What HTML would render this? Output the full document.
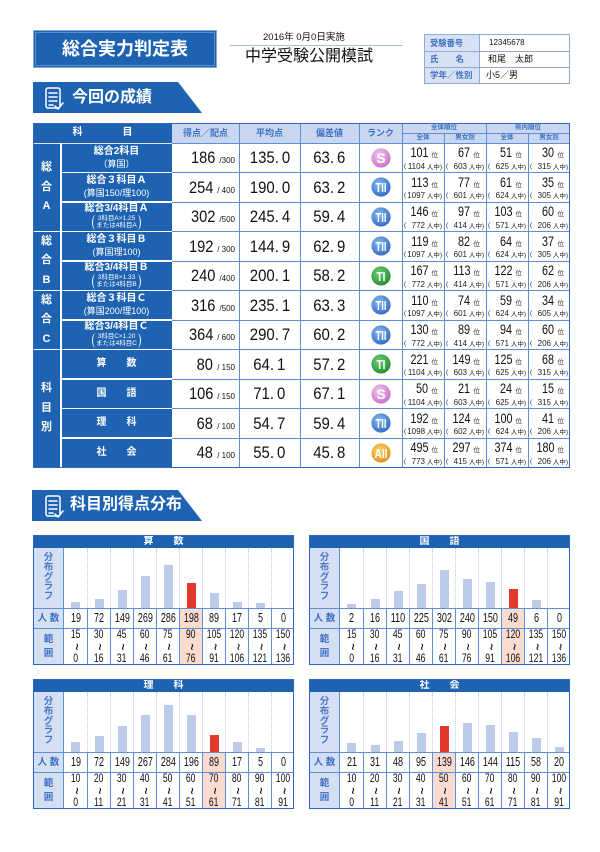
<!DOCTYPE html>
<html><head><meta charset="utf-8"><style>
*{margin:0;padding:0;box-sizing:border-box}
html,body{width:600px;height:852px;background:#fff;overflow:hidden}
body{position:relative;font-family:"Liberation Sans","Noto Sans CJK JP",sans-serif;color:#111}
.a{position:absolute}
.hl{position:absolute;height:1px;background:#5f8fd4}
.vl{position:absolute;width:1px;background:#5f8fd4}
.wh{position:absolute;background:#fff}
.ht{position:absolute;color:#3d6fc3;font-weight:bold;text-align:center;white-space:nowrap}
.sb{position:absolute;left:61px;width:111px;height:29.5px;display:flex;flex-direction:column;align-items:center;justify-content:center;color:#fff;line-height:12px;white-space:nowrap}
.sb b{font-size:10px}
.sb span{font-size:9px}
.sb b.s{line-height:10.5px}
.sb .br{border-left:1px solid #fff;border-right:1px solid #fff;border-radius:4px/8px;padding:0 3px;font-size:6.5px;line-height:7.3px;text-align:center;margin-top:0.5px}
.gp{position:absolute;left:33px;width:27px;display:flex;align-items:center;justify-content:center;text-align:center;color:#fff;font-weight:bold;font-size:11px;line-height:19.5px}
.sc{position:absolute;left:172px;width:67px;height:29.5px;line-height:29.5px;text-align:right;padding-right:4px;white-space:nowrap}
.sc b{font-weight:normal;font-size:17px;display:inline-block;transform:scaleX(.86);transform-origin:100% 50%}
.sc i{font-style:normal;font-size:8px;margin-left:4px}
.av,.dv{position:absolute;height:29.5px;line-height:29.5px;text-align:center;white-space:nowrap}
.av{left:239px;width:61px}.dv{left:300px;width:59px}
.av b,.dv b{font-weight:normal;font-size:17px;display:inline-block;transform:scaleX(.88)}
.rk{position:absolute;left:359px;width:43px;height:29.5px;display:flex;align-items:center;justify-content:center}
.rc{position:absolute;width:42px;height:29.5px}
.c1{left:402px}.c2{left:444px}.c3{left:486px}.c4{left:528px}
.rc .l1{position:absolute;right:6px;top:2px;font-size:13.5px;line-height:15px;white-space:nowrap}
.rc .l1 b{font-weight:normal;display:inline-block;transform:scaleX(.8);transform-origin:100% 50%}
.rc .l1 i{font-style:normal;font-size:6.5px;margin-left:3px;color:#333}
.rc .l2{position:absolute;left:2px;right:2px;top:18.5px;font-size:6.5px;line-height:9px;display:flex;justify-content:space-between;white-space:nowrap;color:#222}
.rc .l2 em{font-style:normal;font-size:8px}
.ch{position:absolute;width:261px;height:130px;background:#fff}
.ct{position:absolute;left:0;top:0;width:261px;height:13px;background:#1e63b1;color:#fff;font-weight:bold;font-size:10px;line-height:13px;text-align:center}
.lc{position:absolute;left:0;top:13px;width:31px;height:117px;background:#d4dff3;border-right:1px solid #5f8fd4}
.lt1{position:absolute;left:0;top:18px;width:31px;text-align:center;font-size:9.5px;line-height:9.8px;color:#4a78c6;font-weight:bold}
.lt2{position:absolute;left:0;top:73px;width:31px;height:20px;line-height:19px;text-align:center;font-size:9.5px;color:#3d6fc3;font-weight:bold;border-top:1px solid #5f8fd4}
.lt3{position:absolute;left:0;top:93px;width:31px;height:37px;display:flex;align-items:center;justify-content:center;line-height:14px;font-size:9.5px;color:#3d6fc3;font-weight:bold;border-top:1px solid #5f8fd4;text-align:center}
.gr{position:absolute;left:31px;top:13px;width:230px;height:60px;display:flex}
.gr div{width:23px;height:60px;display:flex;align-items:flex-end;justify-content:center;border-left:1px dotted #bccbea}
.gr div:first-child{border-left:none}
.gr i{display:block;width:9px;background:#bccbe9}
.gr i.r{background:#e0392e}
.cn{position:absolute;left:31px;top:73px;width:230px;height:20px;display:flex;border-top:1px solid #5f8fd4}
.cn div{width:23px;height:19px;border-left:1px solid #5f8fd4;text-align:center;line-height:19px;font-size:12.5px}
.rg{position:absolute;left:31px;top:93px;width:230px;height:37px;display:flex;border-top:1px solid #5f8fd4}
.rg div{width:23px;height:36px;border-left:1px solid #5f8fd4;display:flex;align-items:center;justify-content:center;font-size:12px;line-height:11.8px;text-align:center}
.cn div:first-child,.rg div:first-child{border-left:none}
.cn span,.rg span{display:inline-block;transform:scaleX(.72)}
.t{display:inline-block;transform:scaleX(1.9) rotate(90deg);font-style:normal;font-size:12px}
.hi{background:#f9dbd0}
.bd{position:absolute;left:0;top:0;width:261px;height:130px;border:1.5px solid #2c6bc2}
</style></head><body>

<svg width="0" height="0" style="position:absolute"><defs>
<radialGradient id="gS" cx=".4" cy=".35" r=".75"><stop offset="0" stop-color="#f2c6ef"/><stop offset="1" stop-color="#c468c0"/></radialGradient>
<radialGradient id="gB" cx=".4" cy=".35" r=".75"><stop offset="0" stop-color="#86baf2"/><stop offset="1" stop-color="#2a64bd"/></radialGradient>
<radialGradient id="gG" cx=".4" cy=".35" r=".75"><stop offset="0" stop-color="#72cc74"/><stop offset="1" stop-color="#1d8a2e"/></radialGradient>
<radialGradient id="gO" cx=".4" cy=".35" r=".75"><stop offset="0" stop-color="#fad36e"/><stop offset="1" stop-color="#e08a10"/></radialGradient>
</defs></svg>

<!-- Title box -->
<div class="a" style="left:33px;top:30px;width:184px;height:38px;background:#1e63b1;border:1px solid #86aadd;box-shadow:inset 0 0 0 1px #1e63b1,inset 0 0 0 2px #5a8ed3;color:#fff;font-weight:bold;font-size:18px;line-height:36px;text-align:center">総合実力判定表</div>

<div class="a" style="left:263px;top:32px;font-size:9.5px;line-height:12px;white-space:nowrap">2016年 0月0日実施</div>
<div class="a" style="left:230px;top:45px;width:173px;height:1px;background:#a8c0e8"></div>
<div class="a" style="left:245px;top:48px;font-size:16px;line-height:18px;white-space:nowrap">中学受験公開模試</div>

<!-- Info box -->
<div class="a" style="left:424px;top:34px;width:146px;height:50px;border:1px solid #8fabd9;background:#fff">
  <div class="a" style="left:0;top:0;width:55px;height:48px;background:#d7e1f3;border-right:1px solid #8fabd9"></div>
  <div class="a" style="left:0;top:16px;width:144px;height:1px;background:#8fabd9"></div>
  <div class="a" style="left:0;top:32px;width:144px;height:1px;background:#8fabd9"></div>
  <div class="a" style="left:5px;top:0;height:16px;line-height:16px;font-size:8.3px;font-weight:bold;color:#3f70c2;white-space:nowrap">受験番号</div>
  <div class="a" style="left:5px;top:16px;height:16px;line-height:16px;font-size:8.5px;font-weight:bold;color:#3f70c2;white-space:nowrap">氏&emsp;&emsp;名</div>
  <div class="a" style="left:5px;top:32px;height:16px;line-height:16px;font-size:8.5px;font-weight:bold;color:#3f70c2;white-space:nowrap">学年／性別</div>
  <div class="a" style="left:64px;top:0;height:16px;line-height:16px;font-size:8px;white-space:nowrap">12345678</div>
  <div class="a" style="left:63px;top:16px;height:16px;line-height:16px;font-size:9px;white-space:nowrap">和尾　太郎</div>
  <div class="a" style="left:61px;top:32px;height:16px;line-height:16px;font-size:9px;white-space:nowrap">小5／男</div>
</div>

<!-- Section headings -->
<svg class="a" style="left:0;top:0" width="600" height="852">
  <polygon points="33,82 178,82 202,113 33,113" fill="#1e63b1"/>
  <g fill="none" stroke="#fff" stroke-width="1.5" stroke-linecap="round">
    <rect x="46" y="88" width="14" height="20" rx="2"/>
    <line x1="49" y1="93" x2="57" y2="93"/><line x1="49" y1="97" x2="57" y2="97"/><line x1="49" y1="101" x2="57" y2="101"/><line x1="49" y1="105" x2="53" y2="105"/>
    <path d="M55,106 l3,3 l5,-6"/>
  </g>
  <polygon points="32,490 178,490 202,521 32,521" fill="#1e63b1"/>
  <g fill="none" stroke="#fff" stroke-width="1.5" stroke-linecap="round">
    <rect x="46" y="496" width="14" height="20" rx="2"/>
    <line x1="49" y1="501" x2="57" y2="501"/><line x1="49" y1="505" x2="57" y2="505"/><line x1="49" y1="509" x2="57" y2="509"/><line x1="49" y1="513" x2="53" y2="513"/>
    <path d="M55,514 l3,3 l5,-6"/>
  </g>
</svg>
<div class="a" style="left:72px;top:89px;font-size:16px;line-height:18px;font-weight:bold;color:#fff;white-space:nowrap">今回の成績</div>
<div class="a" style="left:70px;top:496px;font-size:16px;line-height:18px;font-weight:bold;color:#fff;white-space:nowrap">科目別得点分布</div>

<!-- Table backgrounds -->
<div class="a" style="left:33px;top:123px;width:139px;height:344.5px;background:#1e63b1"></div>
<div class="a" style="left:172px;top:123px;width:398px;height:20px;background:#c8d7ef"></div>

<!-- white lines in blue area -->
<div class="wh" style="left:33px;top:142.5px;width:139px;height:1px;background:#dfe8f6"></div>
<div class="wh" style="left:60px;top:143px;width:1.5px;height:324.5px"></div>
<div class="wh" style="left:61.5px;top:171.75px;width:110.5px;height:1.5px"></div>
<div class="wh" style="left:61.5px;top:201.25px;width:110.5px;height:1.5px"></div>
<div class="wh" style="left:61.5px;top:230.75px;width:110.5px;height:1.5px"></div>
<div class="wh" style="left:61.5px;top:260.25px;width:110.5px;height:1.5px"></div>
<div class="wh" style="left:61.5px;top:289.75px;width:110.5px;height:1.5px"></div>
<div class="wh" style="left:61.5px;top:319.25px;width:110.5px;height:1.5px"></div>
<div class="wh" style="left:61.5px;top:348.75px;width:110.5px;height:1.5px"></div>
<div class="wh" style="left:61.5px;top:378.25px;width:110.5px;height:1.5px"></div>
<div class="wh" style="left:61.5px;top:407.75px;width:110.5px;height:1.5px"></div>
<div class="wh" style="left:61.5px;top:437.25px;width:110.5px;height:1.5px"></div>
<div class="wh" style="left:33px;top:230.75px;width:27px;height:1.5px"></div>
<div class="wh" style="left:33px;top:289.75px;width:27px;height:1.5px"></div>
<div class="wh" style="left:33px;top:348.75px;width:27px;height:1.5px"></div>

<!-- grid lines -->
<div class="hl" style="left:172px;top:142.5px;width:398px"></div>
<div class="hl" style="left:172px;top:172px;width:398px"></div>
<div class="hl" style="left:172px;top:201.5px;width:398px"></div>
<div class="hl" style="left:172px;top:231px;width:398px"></div>
<div class="hl" style="left:172px;top:260.5px;width:398px"></div>
<div class="hl" style="left:172px;top:290px;width:398px"></div>
<div class="hl" style="left:172px;top:319.5px;width:398px"></div>
<div class="hl" style="left:172px;top:349px;width:398px"></div>
<div class="hl" style="left:172px;top:378.5px;width:398px"></div>
<div class="hl" style="left:172px;top:408px;width:398px"></div>
<div class="hl" style="left:172px;top:437.5px;width:398px"></div>
<div class="hl" style="left:402px;top:132.5px;width:168px"></div>
<div class="vl" style="left:238.5px;top:123px;height:344.5px"></div>
<div class="vl" style="left:299.5px;top:123px;height:344.5px"></div>
<div class="vl" style="left:358.5px;top:123px;height:344.5px"></div>
<div class="vl" style="left:401.5px;top:123px;height:344.5px"></div>
<div class="vl" style="left:485.5px;top:123px;height:344.5px"></div>
<div class="vl" style="left:443.5px;top:133px;height:334.5px"></div>
<div class="vl" style="left:527.5px;top:133px;height:334.5px"></div>

<!-- header texts -->
<div class="a" style="left:33px;top:123px;width:139px;height:20px;line-height:20px;text-align:center;color:#fff;font-weight:bold;font-size:10px;white-space:nowrap">科&emsp;&emsp;&emsp;&emsp;目</div>
<div class="ht" style="left:172px;top:123px;width:67px;line-height:20px;font-size:9px">得点／配点</div>
<div class="ht" style="left:239px;top:123px;width:61px;line-height:20px;font-size:9px">平均点</div>
<div class="ht" style="left:300px;top:123px;width:59px;line-height:20px;font-size:9px">偏差値</div>
<div class="ht" style="left:359px;top:123px;width:43px;line-height:20px;font-size:9px">ランク</div>
<div class="ht" style="left:402px;top:123px;width:84px;line-height:10px;font-size:6.5px">全体順位</div>
<div class="ht" style="left:486px;top:123px;width:84px;line-height:10px;font-size:6.5px">県内順位</div>
<div class="ht" style="left:402px;top:133px;width:42px;line-height:10px;font-size:6.5px">全体</div>
<div class="ht" style="left:444px;top:133px;width:42px;line-height:10px;font-size:6.5px">男女別</div>
<div class="ht" style="left:486px;top:133px;width:42px;line-height:10px;font-size:6.5px">全体</div>
<div class="ht" style="left:528px;top:133px;width:42px;line-height:10px;font-size:6.5px">男女別</div>

<!-- group labels -->
<div class="gp" style="top:143px;height:88.5px"><div>総<br>合<br>A</div></div>
<div class="gp" style="top:231.5px;height:59px"><div>総<br>合<br>B</div></div>
<div class="gp" style="top:290.5px;height:59px"><div>総<br>合<br>C</div></div>
<div class="gp" style="top:349.5px;height:118px"><div>科<br>目<br>別</div></div>

<!-- Row 1 -->
<div class="sb" style="top:143px"><b>総合2科目</b><span>（算国）</span></div>
<div class="sc" style="top:143px"><b>186</b><i>/300</i></div>
<div class="av" style="top:143px"><b>135.&thinsp;0</b></div>
<div class="dv" style="top:143px"><b>63.&thinsp;6</b></div>
<div class="rk" style="top:143px"><svg width="20" height="20"><circle cx="10" cy="10" r="9.6" fill="url(#gS)"/><text x="10" y="14.8" text-anchor="middle" font-family="Liberation Sans" font-weight="bold" font-size="14" fill="#fff">S</text></svg></div>
<div class="rc c1" style="top:143px"><p class="l1"><b>101</b><i>位</i></p><p class="l2"><span>(</span><span><em>1104</em> 人中)</span></p></div>
<div class="rc c2" style="top:143px"><p class="l1"><b>67</b><i>位</i></p><p class="l2"><span>(</span><span><em>603</em> 人中)</span></p></div>
<div class="rc c3" style="top:143px"><p class="l1"><b>51</b><i>位</i></p><p class="l2"><span>(</span><span><em>625</em> 人中)</span></p></div>
<div class="rc c4" style="top:143px"><p class="l1"><b>30</b><i>位</i></p><p class="l2"><span>(</span><span><em>315</em> 人中)</span></p></div>

<!-- Row 2 -->
<div class="sb" style="top:172.5px"><b>総合３科目Ａ</b><span>(算国150/理100)</span></div>
<div class="sc" style="top:172.5px"><b>254</b><i>/ 400</i></div>
<div class="av" style="top:172.5px"><b>190.&thinsp;0</b></div>
<div class="dv" style="top:172.5px"><b>63.&thinsp;2</b></div>
<div class="rk" style="top:172.5px"><svg width="20" height="20"><circle cx="10" cy="10" r="9.6" fill="url(#gB)"/><text x="10" y="14.8" text-anchor="middle" font-family="Liberation Sans" font-weight="bold" font-size="13" fill="#fff" textLength="11" lengthAdjust="spacingAndGlyphs">TII</text></svg></div>
<div class="rc c1" style="top:172.5px"><p class="l1"><b>113</b><i>位</i></p><p class="l2"><span>(</span><span><em>1097</em> 人中)</span></p></div>
<div class="rc c2" style="top:172.5px"><p class="l1"><b>77</b><i>位</i></p><p class="l2"><span>(</span><span><em>601</em> 人中)</span></p></div>
<div class="rc c3" style="top:172.5px"><p class="l1"><b>61</b><i>位</i></p><p class="l2"><span>(</span><span><em>624</em> 人中)</span></p></div>
<div class="rc c4" style="top:172.5px"><p class="l1"><b>35</b><i>位</i></p><p class="l2"><span>(</span><span><em>305</em> 人中)</span></p></div>

<!-- Row 3 -->
<div class="sb" style="top:202px"><b class="s">総合3/4科目Ａ</b><div class="br">3科目A×1.25<br>または4科目A</div></div>
<div class="sc" style="top:202px"><b>302</b><i>/500</i></div>
<div class="av" style="top:202px"><b>245.&thinsp;4</b></div>
<div class="dv" style="top:202px"><b>59.&thinsp;4</b></div>
<div class="rk" style="top:202px"><svg width="20" height="20"><circle cx="10" cy="10" r="9.6" fill="url(#gB)"/><text x="10" y="14.8" text-anchor="middle" font-family="Liberation Sans" font-weight="bold" font-size="13" fill="#fff" textLength="11" lengthAdjust="spacingAndGlyphs">TII</text></svg></div>
<div class="rc c1" style="top:202px"><p class="l1"><b>146</b><i>位</i></p><p class="l2"><span>(</span><span><em>772</em> 人中)</span></p></div>
<div class="rc c2" style="top:202px"><p class="l1"><b>97</b><i>位</i></p><p class="l2"><span>(</span><span><em>414</em> 人中)</span></p></div>
<div class="rc c3" style="top:202px"><p class="l1"><b>103</b><i>位</i></p><p class="l2"><span>(</span><span><em>571</em> 人中)</span></p></div>
<div class="rc c4" style="top:202px"><p class="l1"><b>60</b><i>位</i></p><p class="l2"><span>(</span><span><em>206</em> 人中)</span></p></div>

<!-- Row 4 -->
<div class="sb" style="top:231.5px"><b>総合３科目Ｂ</b><span>(算国理100)</span></div>
<div class="sc" style="top:231.5px"><b>192</b><i>/ 300</i></div>
<div class="av" style="top:231.5px"><b>144.&thinsp;9</b></div>
<div class="dv" style="top:231.5px"><b>62.&thinsp;9</b></div>
<div class="rk" style="top:231.5px"><svg width="20" height="20"><circle cx="10" cy="10" r="9.6" fill="url(#gB)"/><text x="10" y="14.8" text-anchor="middle" font-family="Liberation Sans" font-weight="bold" font-size="13" fill="#fff" textLength="11" lengthAdjust="spacingAndGlyphs">TII</text></svg></div>
<div class="rc c1" style="top:231.5px"><p class="l1"><b>119</b><i>位</i></p><p class="l2"><span>(</span><span><em>1097</em> 人中)</span></p></div>
<div class="rc c2" style="top:231.5px"><p class="l1"><b>82</b><i>位</i></p><p class="l2"><span>(</span><span><em>601</em> 人中)</span></p></div>
<div class="rc c3" style="top:231.5px"><p class="l1"><b>64</b><i>位</i></p><p class="l2"><span>(</span><span><em>624</em> 人中)</span></p></div>
<div class="rc c4" style="top:231.5px"><p class="l1"><b>37</b><i>位</i></p><p class="l2"><span>(</span><span><em>305</em> 人中)</span></p></div>

<!-- Row 5 -->
<div class="sb" style="top:261px"><b class="s">総合3/4科目Ｂ</b><div class="br">3科目B×1.33<br>または4科目B</div></div>
<div class="sc" style="top:261px"><b>240</b><i>/400</i></div>
<div class="av" style="top:261px"><b>200.&thinsp;1</b></div>
<div class="dv" style="top:261px"><b>58.&thinsp;2</b></div>
<div class="rk" style="top:261px"><svg width="20" height="20"><circle cx="10" cy="10" r="9.6" fill="url(#gG)"/><text x="10" y="14.8" text-anchor="middle" font-family="Liberation Sans" font-weight="bold" font-size="13" fill="#fff" textLength="9" lengthAdjust="spacingAndGlyphs">TI</text></svg></div>
<div class="rc c1" style="top:261px"><p class="l1"><b>167</b><i>位</i></p><p class="l2"><span>(</span><span><em>772</em> 人中)</span></p></div>
<div class="rc c2" style="top:261px"><p class="l1"><b>113</b><i>位</i></p><p class="l2"><span>(</span><span><em>414</em> 人中)</span></p></div>
<div class="rc c3" style="top:261px"><p class="l1"><b>122</b><i>位</i></p><p class="l2"><span>(</span><span><em>571</em> 人中)</span></p></div>
<div class="rc c4" style="top:261px"><p class="l1"><b>62</b><i>位</i></p><p class="l2"><span>(</span><span><em>206</em> 人中)</span></p></div>

<!-- Row 6 -->
<div class="sb" style="top:290.5px"><b>総合３科目Ｃ</b><span>(算国200/理100)</span></div>
<div class="sc" style="top:290.5px"><b>316</b><i>/500</i></div>
<div class="av" style="top:290.5px"><b>235.&thinsp;1</b></div>
<div class="dv" style="top:290.5px"><b>63.&thinsp;3</b></div>
<div class="rk" style="top:290.5px"><svg width="20" height="20"><circle cx="10" cy="10" r="9.6" fill="url(#gB)"/><text x="10" y="14.8" text-anchor="middle" font-family="Liberation Sans" font-weight="bold" font-size="13" fill="#fff" textLength="11" lengthAdjust="spacingAndGlyphs">TII</text></svg></div>
<div class="rc c1" style="top:290.5px"><p class="l1"><b>110</b><i>位</i></p><p class="l2"><span>(</span><span><em>1097</em> 人中)</span></p></div>
<div class="rc c2" style="top:290.5px"><p class="l1"><b>74</b><i>位</i></p><p class="l2"><span>(</span><span><em>601</em> 人中)</span></p></div>
<div class="rc c3" style="top:290.5px"><p class="l1"><b>59</b><i>位</i></p><p class="l2"><span>(</span><span><em>624</em> 人中)</span></p></div>
<div class="rc c4" style="top:290.5px"><p class="l1"><b>34</b><i>位</i></p><p class="l2"><span>(</span><span><em>605</em> 人中)</span></p></div>

<!-- Row 7 -->
<div class="sb" style="top:320px"><b class="s">総合3/4科目Ｃ</b><div class="br">3科目C×1.20<br>または4科目C</div></div>
<div class="sc" style="top:320px"><b>364</b><i>/ 600</i></div>
<div class="av" style="top:320px"><b>290.&thinsp;7</b></div>
<div class="dv" style="top:320px"><b>60.&thinsp;2</b></div>
<div class="rk" style="top:320px"><svg width="20" height="20"><circle cx="10" cy="10" r="9.6" fill="url(#gB)"/><text x="10" y="14.8" text-anchor="middle" font-family="Liberation Sans" font-weight="bold" font-size="13" fill="#fff" textLength="11" lengthAdjust="spacingAndGlyphs">TII</text></svg></div>
<div class="rc c1" style="top:320px"><p class="l1"><b>130</b><i>位</i></p><p class="l2"><span>(</span><span><em>772</em> 人中)</span></p></div>
<div class="rc c2" style="top:320px"><p class="l1"><b>89</b><i>位</i></p><p class="l2"><span>(</span><span><em>414</em> 人中)</span></p></div>
<div class="rc c3" style="top:320px"><p class="l1"><b>94</b><i>位</i></p><p class="l2"><span>(</span><span><em>571</em> 人中)</span></p></div>
<div class="rc c4" style="top:320px"><p class="l1"><b>60</b><i>位</i></p><p class="l2"><span>(</span><span><em>206</em> 人中)</span></p></div>

<!-- Row 8 -->
<div class="sb" style="top:349.5px"><b>算&emsp;&emsp;数</b></div>
<div class="sc" style="top:349.5px"><b>80</b><i>/ 150</i></div>
<div class="av" style="top:349.5px"><b>64.&thinsp;1</b></div>
<div class="dv" style="top:349.5px"><b>57.&thinsp;2</b></div>
<div class="rk" style="top:349.5px"><svg width="20" height="20"><circle cx="10" cy="10" r="9.6" fill="url(#gG)"/><text x="10" y="14.8" text-anchor="middle" font-family="Liberation Sans" font-weight="bold" font-size="13" fill="#fff" textLength="9" lengthAdjust="spacingAndGlyphs">TI</text></svg></div>
<div class="rc c1" style="top:349.5px"><p class="l1"><b>221</b><i>位</i></p><p class="l2"><span>(</span><span><em>1104</em> 人中)</span></p></div>
<div class="rc c2" style="top:349.5px"><p class="l1"><b>149</b><i>位</i></p><p class="l2"><span>(</span><span><em>603</em> 人中)</span></p></div>
<div class="rc c3" style="top:349.5px"><p class="l1"><b>125</b><i>位</i></p><p class="l2"><span>(</span><span><em>625</em> 人中)</span></p></div>
<div class="rc c4" style="top:349.5px"><p class="l1"><b>68</b><i>位</i></p><p class="l2"><span>(</span><span><em>315</em> 人中)</span></p></div>

<!-- Row 9 -->
<div class="sb" style="top:379px"><b>国&emsp;&emsp;語</b></div>
<div class="sc" style="top:379px"><b>106</b><i>/ 150</i></div>
<div class="av" style="top:379px"><b>71.&thinsp;0</b></div>
<div class="dv" style="top:379px"><b>67.&thinsp;1</b></div>
<div class="rk" style="top:379px"><svg width="20" height="20"><circle cx="10" cy="10" r="9.6" fill="url(#gS)"/><text x="10" y="14.8" text-anchor="middle" font-family="Liberation Sans" font-weight="bold" font-size="14" fill="#fff">S</text></svg></div>
<div class="rc c1" style="top:379px"><p class="l1"><b>50</b><i>位</i></p><p class="l2"><span>(</span><span><em>1104</em> 人中)</span></p></div>
<div class="rc c2" style="top:379px"><p class="l1"><b>21</b><i>位</i></p><p class="l2"><span>(</span><span><em>603</em> 人中)</span></p></div>
<div class="rc c3" style="top:379px"><p class="l1"><b>24</b><i>位</i></p><p class="l2"><span>(</span><span><em>625</em> 人中)</span></p></div>
<div class="rc c4" style="top:379px"><p class="l1"><b>15</b><i>位</i></p><p class="l2"><span>(</span><span><em>315</em> 人中)</span></p></div>

<!-- Row 10 -->
<div class="sb" style="top:408.5px"><b>理&emsp;&emsp;科</b></div>
<div class="sc" style="top:408.5px"><b>68</b><i>/ 100</i></div>
<div class="av" style="top:408.5px"><b>54.&thinsp;7</b></div>
<div class="dv" style="top:408.5px"><b>59.&thinsp;4</b></div>
<div class="rk" style="top:408.5px"><svg width="20" height="20"><circle cx="10" cy="10" r="9.6" fill="url(#gB)"/><text x="10" y="14.8" text-anchor="middle" font-family="Liberation Sans" font-weight="bold" font-size="13" fill="#fff" textLength="11" lengthAdjust="spacingAndGlyphs">TII</text></svg></div>
<div class="rc c1" style="top:408.5px"><p class="l1"><b>192</b><i>位</i></p><p class="l2"><span>(</span><span><em>1098</em> 人中)</span></p></div>
<div class="rc c2" style="top:408.5px"><p class="l1"><b>124</b><i>位</i></p><p class="l2"><span>(</span><span><em>602</em> 人中)</span></p></div>
<div class="rc c3" style="top:408.5px"><p class="l1"><b>100</b><i>位</i></p><p class="l2"><span>(</span><span><em>624</em> 人中)</span></p></div>
<div class="rc c4" style="top:408.5px"><p class="l1"><b>41</b><i>位</i></p><p class="l2"><span>(</span><span><em>206</em> 人中)</span></p></div>

<!-- Row 11 -->
<div class="sb" style="top:438px"><b>社&emsp;&emsp;会</b></div>
<div class="sc" style="top:438px"><b>48</b><i>/ 100</i></div>
<div class="av" style="top:438px"><b>55.&thinsp;0</b></div>
<div class="dv" style="top:438px"><b>45.&thinsp;8</b></div>
<div class="rk" style="top:438px"><svg width="20" height="20"><circle cx="10" cy="10" r="9.6" fill="url(#gO)"/><text x="10" y="14.8" text-anchor="middle" font-family="Liberation Sans" font-weight="bold" font-size="13" fill="#fff" textLength="13" lengthAdjust="spacingAndGlyphs">AII</text></svg></div>
<div class="rc c1" style="top:438px"><p class="l1"><b>495</b><i>位</i></p><p class="l2"><span>(</span><span><em>773</em> 人中)</span></p></div>
<div class="rc c2" style="top:438px"><p class="l1"><b>297</b><i>位</i></p><p class="l2"><span>(</span><span><em>415</em> 人中)</span></p></div>
<div class="rc c3" style="top:438px"><p class="l1"><b>374</b><i>位</i></p><p class="l2"><span>(</span><span><em>571</em> 人中)</span></p></div>
<div class="rc c4" style="top:438px"><p class="l1"><b>180</b><i>位</i></p><p class="l2"><span>(</span><span><em>206</em> 人中)</span></p></div>

<!-- table outer border -->
<div class="a" style="left:33px;top:123px;width:537px;height:344.5px;border:1.5px solid #2f6cc1"></div>

<!-- Chart 1: 算数 -->
<div class="ch" style="left:33px;top:535px">
<div class="ct">算&emsp;&emsp;数</div>
<div class="lc"></div>
<div class="lt1">分<br>布<br>グ<br>ラ<br>フ</div>
<div class="lt2">人 数</div>
<div class="lt3"><div>範<br>囲</div></div>
<div class="gr">
<div><i style="height:6px"></i></div><div><i style="height:9.3px"></i></div><div><i style="height:17.7px"></i></div><div><i style="height:32px"></i></div><div><i style="height:43.3px"></i></div><div><i class="r" style="height:25px"></i></div><div><i style="height:15.3px"></i></div><div><i style="height:6.3px"></i></div><div><i style="height:5.3px"></i></div><div></div>
</div>
<div class="cn"><div><span>19</span></div><div><span>72</span></div><div><span>149</span></div><div><span>269</span></div><div><span>286</span></div><div class="hi"><span>198</span></div><div><span>89</span></div><div><span>17</span></div><div><span>5</span></div><div><span>0</span></div></div>
<div class="rg"><div><span>15<br><i class="t">~</i><br>0</span></div><div><span>30<br><i class="t">~</i><br>16</span></div><div><span>45<br><i class="t">~</i><br>31</span></div><div><span>60<br><i class="t">~</i><br>46</span></div><div><span>75<br><i class="t">~</i><br>61</span></div><div class="hi"><span>90<br><i class="t">~</i><br>76</span></div><div><span>105<br><i class="t">~</i><br>91</span></div><div><span>120<br><i class="t">~</i><br>106</span></div><div><span>135<br><i class="t">~</i><br>121</span></div><div><span>150<br><i class="t">~</i><br>136</span></div></div>
<div class="bd"></div>
</div>

<!-- Chart 2: 国語 -->
<div class="ch" style="left:309px;top:535px">
<div class="ct">国&emsp;&emsp;語</div>
<div class="lc"></div>
<div class="lt1">分<br>布<br>グ<br>ラ<br>フ</div>
<div class="lt2">人 数</div>
<div class="lt3"><div>範<br>囲</div></div>
<div class="gr">
<div><i style="height:4.3px"></i></div><div><i style="height:9.3px"></i></div><div><i style="height:17px"></i></div><div><i style="height:24px"></i></div><div><i style="height:38px"></i></div><div><i style="height:29.3px"></i></div><div><i style="height:25.7px"></i></div><div><i class="r" style="height:19.3px"></i></div><div><i style="height:8.3px"></i></div><div></div>
</div>
<div class="cn"><div><span>2</span></div><div><span>16</span></div><div><span>110</span></div><div><span>225</span></div><div><span>302</span></div><div><span>240</span></div><div><span>150</span></div><div class="hi"><span>49</span></div><div><span>6</span></div><div><span>0</span></div></div>
<div class="rg"><div><span>15<br><i class="t">~</i><br>0</span></div><div><span>30<br><i class="t">~</i><br>16</span></div><div><span>45<br><i class="t">~</i><br>31</span></div><div><span>60<br><i class="t">~</i><br>46</span></div><div><span>75<br><i class="t">~</i><br>61</span></div><div><span>90<br><i class="t">~</i><br>76</span></div><div><span>105<br><i class="t">~</i><br>91</span></div><div class="hi"><span>120<br><i class="t">~</i><br>106</span></div><div><span>135<br><i class="t">~</i><br>121</span></div><div><span>150<br><i class="t">~</i><br>136</span></div></div>
<div class="bd"></div>
</div>

<!-- Chart 3: 理科 -->
<div class="ch" style="left:33px;top:679px">
<div class="ct">理&emsp;&emsp;科</div>
<div class="lc"></div>
<div class="lt1">分<br>布<br>グ<br>ラ<br>フ</div>
<div class="lt2">人 数</div>
<div class="lt3"><div>範<br>囲</div></div>
<div class="gr">
<div><i style="height:10px"></i></div><div><i style="height:16.3px"></i></div><div><i style="height:26.3px"></i></div><div><i style="height:37.3px"></i></div><div><i style="height:47px"></i></div><div><i style="height:37px"></i></div><div><i class="r" style="height:17.3px"></i></div><div><i style="height:9.7px"></i></div><div><i style="height:4px"></i></div><div></div>
</div>
<div class="cn"><div><span>19</span></div><div><span>72</span></div><div><span>149</span></div><div><span>267</span></div><div><span>284</span></div><div><span>196</span></div><div class="hi"><span>89</span></div><div><span>17</span></div><div><span>5</span></div><div><span>0</span></div></div>
<div class="rg"><div><span>10<br><i class="t">~</i><br>0</span></div><div><span>20<br><i class="t">~</i><br>11</span></div><div><span>30<br><i class="t">~</i><br>21</span></div><div><span>40<br><i class="t">~</i><br>31</span></div><div><span>50<br><i class="t">~</i><br>41</span></div><div><span>60<br><i class="t">~</i><br>51</span></div><div class="hi"><span>70<br><i class="t">~</i><br>61</span></div><div><span>80<br><i class="t">~</i><br>71</span></div><div><span>90<br><i class="t">~</i><br>81</span></div><div><span>100<br><i class="t">~</i><br>91</span></div></div>
<div class="bd"></div>
</div>

<!-- Chart 4: 社会 -->
<div class="ch" style="left:309px;top:679px">
<div class="ct">社&emsp;&emsp;会</div>
<div class="lc"></div>
<div class="lt1">分<br>布<br>グ<br>ラ<br>フ</div>
<div class="lt2">人 数</div>
<div class="lt3"><div>範<br>囲</div></div>
<div class="gr">
<div><i style="height:8.7px"></i></div><div><i style="height:7px"></i></div><div><i style="height:11.3px"></i></div><div><i style="height:18.7px"></i></div><div><i class="r" style="height:25.7px"></i></div><div><i style="height:29px"></i></div><div><i style="height:26.7px"></i></div><div><i style="height:19.7px"></i></div><div><i style="height:14px"></i></div><div><i style="height:4.7px"></i></div>
</div>
<div class="cn"><div><span>21</span></div><div><span>31</span></div><div><span>48</span></div><div><span>95</span></div><div class="hi"><span>139</span></div><div><span>146</span></div><div><span>144</span></div><div><span>115</span></div><div><span>58</span></div><div><span>20</span></div></div>
<div class="rg"><div><span>10<br><i class="t">~</i><br>0</span></div><div><span>20<br><i class="t">~</i><br>11</span></div><div><span>30<br><i class="t">~</i><br>21</span></div><div><span>40<br><i class="t">~</i><br>31</span></div><div class="hi"><span>50<br><i class="t">~</i><br>41</span></div><div><span>60<br><i class="t">~</i><br>51</span></div><div><span>70<br><i class="t">~</i><br>61</span></div><div><span>80<br><i class="t">~</i><br>71</span></div><div><span>90<br><i class="t">~</i><br>81</span></div><div><span>100<br><i class="t">~</i><br>91</span></div></div>
<div class="bd"></div>
</div>

</body></html>
